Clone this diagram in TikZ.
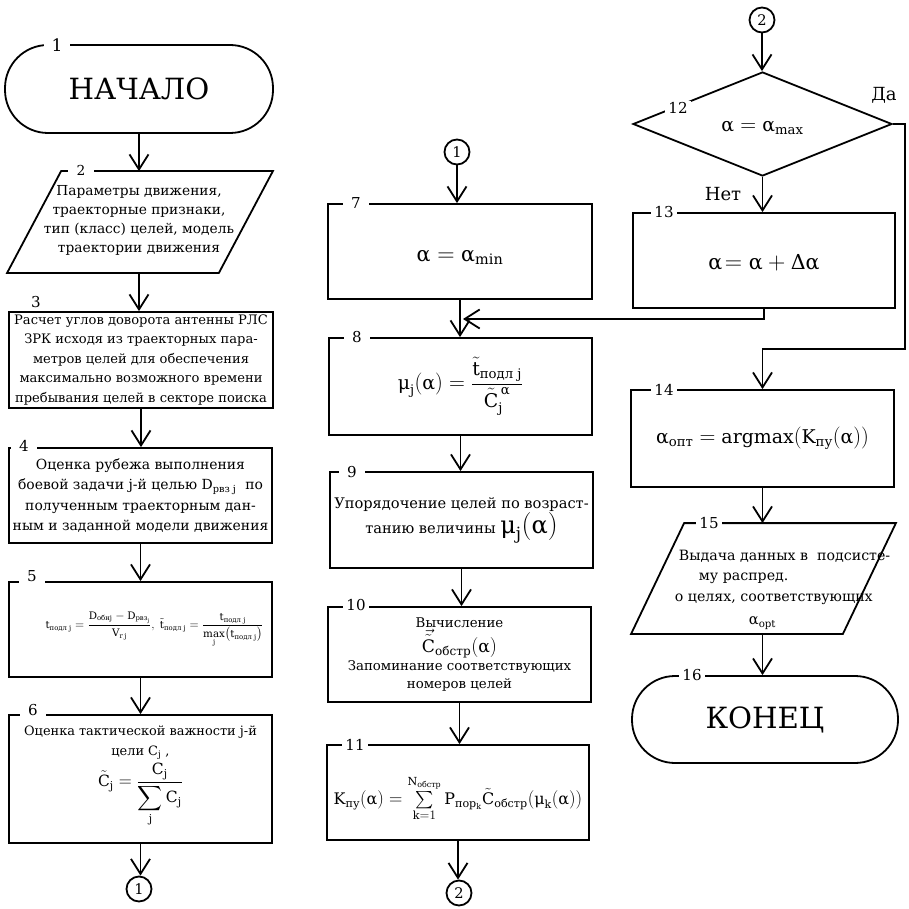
\RequirePackage{fix-cm}
\documentclass[tikz,border=0pt]{standalone}
\usepackage{amsmath}
\usepackage{fontspec}
\setmainfont{DejaVu Serif}[Scale=0.86]
\usetikzlibrary{shapes.geometric,arrows.meta,calc}
\newcommand{\T}[1]{\text{#1}}
\newcommand{\fs}[2]{\fontsize{#1}{#2}\selectfont}
\newcommand{\shiftdn}[2]{\raisebox{-#1}[\height][\depth]{#2}}
\begin{document}
\begin{tikzpicture}[x=1pt,y=-1pt,line width=1.8pt,
  blk/.style={draw,rectangle,align=center,inner sep=2pt},
  term/.style={draw,rectangle,rounded corners=43pt,inner sep=0pt},
  iobox/.style={rectangle,inner sep=0pt},
  num/.style={fill=white,inner xsep=2pt,inner ysep=1pt,minimum width=26pt,font=\fs{17.5}{17.5}},
  conn/.style={draw,circle,minimum size=25pt,inner sep=0pt,font=\fs{17}{17}},
  arr/.style={-{Straight Barb[length=15pt,width=19pt]}},
  lbl/.style={inner sep=0pt,font=\fs{21}{21}}]
\useasboundingbox (0,0) rectangle (909,909);

% ---------- left column ----------
\node[term,minimum width=268,minimum height=88,font=\fs{34}{34}] (t1) at (139,89) {НАЧАЛО};
\node[iobox,minimum width=264,minimum height=100] (p2) at (140,222) {};
\draw ($(p2.north west)+(54,0)$) -- (p2.north east) -- ($(p2.south east)+(-54,0)$) -- (p2.south west) -- cycle;
\node[align=center,font=\fs{16}{19}] (t2) at (139,220) {Параметры движения,\\траекторные признаки,\\тип (класс) целей, модель\\траектории движения};
\node[blk,minimum width=264,minimum height=96,font=\fs{15.2}{19.5}] (b3) at (141,360) {Расчет углов доворота антенны РЛС\\ЗРК исходя из траекторных пара-\\метров целей для обеспечения\\максимально возможного времени\\пребывания целей в секторе поиска};
\node[blk,minimum width=263,minimum height=95,font=\fs{16.2}{20.5}] (b4) at (140.5,495.5) {Оценка рубежа выполнения\\боевой задачи j-й целью D\textsubscript{рвз j}~~по\\полученным траекторным дан-\\ным и заданной модели движения};
\node[blk,minimum width=263,minimum height=95,font=\fs{12}{14}] (b5) at (140.5,629.5) {\hspace*{28pt}$\T{t}_{\T{подл j}} = \dfrac{\T{D}_{\T{обн}\T{j}} - \T{D}_{\T{рвз}_{\T{j}}}}{\T{V}_{\T{r}\,\T{j}}},\ \tilde{\T{t}}_{\T{подл j}} = \dfrac{\T{t}_{\T{подл j}}}{\max\limits_{\T{j}}\bigl(\T{t}_{\T{подл j}}\bigr)}$};
\node[blk,minimum width=263,minimum height=128,font=\fs{15}{20}] (b6) at (140.5,779) {Оценка тактической важности j-й\\цели C\textsubscript{j} ,\\[2pt]{\fs{18}{20}$\tilde{\T{C}}_{\T{j}} = \dfrac{\T{C}_{\T{j}}}{\displaystyle\sum_{\T{j}}\T{C}_{\T{j}}}$}\\[4pt]};
\node[conn] (c1a) at (139,889) {1};

% ---------- middle column ----------
\node[conn] (c1b) at (457,152) {1};
\node[blk,minimum width=264,minimum height=95,font=\fs{24}{24}] (b7) at (460,251.5) {\shiftdn{6pt}{$\T{α} = \T{α}_{\T{min}}$}};
\node[blk,minimum width=263,minimum height=97,font=\fs{22}{22}] (b8) at (460.5,386.5) {$\T{μ}_{\T{j}}(\T{α}) = \dfrac{\tilde{\T{t}}_{\T{подл j}}}{\tilde{\T{C}}_{\T{j}}^{\,\T{α}}}$};
\node[blk,minimum width=263,minimum height=96,font=\fs{17}{24}] (b9) at (461.5,520) {Упорядочение целей по возраст-\\танию величины~{\fs{28}{28}$\T{μ}_{\T{j}}(\T{α})$}};
\node[blk,minimum width=263,minimum height=95,font=\fs{15.5}{18}] (b10) at (459.5,654.5) {Вычисление\\{\fs{20}{26}$\vec{\tilde{\T{C}}}_{\T{обстр}}(\T{α})$}\\Запоминание соответствующих\\номеров целей};
\node[blk,minimum width=262,minimum height=95,font=\fs{18.5}{18.5}] (b11) at (458,792.5) {\shiftdn{6pt}{$\T{K}_{\T{пу}}(\T{α}) = \sum\limits_{\T{k}=1}^{\T{N}_{\T{обстр}}}\T{P}_{\T{пор}_{\T{k}}}\tilde{\T{C}}_{\T{обстр}}(\T{μ}_{\T{k}}(\T{α}))$}};
\node[conn] (c2a) at (459,893) {2};

% ---------- right column ----------
\node[conn] (c2b) at (762,20) {2};
\node[draw,diamond,minimum width=259,minimum height=104,inner sep=0pt,font=\fs{22}{22}] (d12) at (762.5,124) {\shiftdn{4pt}{$\T{α} = \T{α}_{\T{max}}$}};
\node[blk,minimum width=262,minimum height=95,font=\fs{24}{24}] (b13) at (764,260.5) {\shiftdn{2pt}{$\T{α}\!= \T{α} + \T{Δα}$}};
\node[blk,minimum width=263,minimum height=97,font=\fs{22}{22}] (b14) at (762.5,438.5) {$\T{α}_{\T{опт}} = \T{argmax}(\T{K}_{\T{пу}}(\T{α}))$};
\node[iobox,minimum width=263,minimum height=109] (p15) at (763.5,578.5) {};
\draw ($(p15.north west)+(53,0)$) -- (p15.north east) -- ($(p15.south east)+(-53,0)$) -- (p15.south west) -- cycle;
\node[anchor=north west,align=left,inner sep=0pt,font=\fs{16.5}{20.5}] (t15) at (674,549) {\hspace*{4pt}Выдача данных в~~подсисте-\\\hspace*{24pt}му распред.\\о целях, соответствующих\\[3pt]\hspace*{74pt}{\fs{17}{20}$\T{α}_{\T{opt}}$}};
\node[term,minimum width=266,minimum height=87,font=\fs{34}{34}] (t16) at (765,719.5) {КОНЕЦ};

\node[lbl] (yes) at (884,95) {Да};
\node[lbl] (no) at (723,194) {Нет};

% ---------- connectors ----------
\draw[arr] (t1.south) -- (t1.south |- p2.north);
\draw[arr] (t1.south |- p2.south) -- (t1.south |- b3.north);
\draw[arr] (b3.south) -- (b3.south |- b4.north);
\draw[arr] (b4.south) -- (b4.south |- b5.north);
\draw[arr] (b5.south) -- (b5.south |- b6.north);
\draw[arr] (b6.south) -- (b6.south |- c1a.north);

\draw[arr] (c1b.south) -- (c1b.south |- b7.north);
\draw[arr] (b7.south) -- (b7.south |- b8.north);
\draw[arr] (b8.south) -- (b8.south |- b9.north);
\draw[arr] (b9.south) -- (b9.south |- b10.north);
\draw[arr] (b10.south) -- (b10.south |- b11.north);
\draw[arr] (b11.south) -- (b11.south |- c2a.north);

\coordinate (r1) at (905,125);
\coordinate (r2) at (905,349);
\coordinate (lp) at (463,319);
\draw[arr] (c2b.south) -- (c2b.south |- d12.north);
\draw[arr] (d12.south) -- (d12.south |- b13.north);
\draw[arr] (d12.east) -- (d12.east -| r1) -- (r2) -| (b14.north);
\draw[arr] (b13.south) |- (lp);
\draw[arr] (b14.south) -- (b14.south |- p15.north);
\draw[arr] (b14.south |- p15.south) -- (b14.south |- t16.north);

% ---------- block numbers ----------
\node[num,font=\fs{20}{20}] (n1) at (57,45) {1};
\node[num,font=\fs{16}{16}] (n2) at (81,170) {2};
\node[num,minimum width=40pt] (n3) at (32,302) {\hspace*{8pt}3};
\node[num] (n4) at (24,446) {4};
\node[num] (n5) at (32,576) {5};
\node[num] (n6) at (33,710) {6};
\node[num] (n7) at (356,203) {7};
\node[num] (n8) at (357,337) {8};
\node[num] (n9) at (352,472) {9};
\node[num] (n10) at (356,605) {10};
\node[num] (n11) at (355,745) {11};
\node[num] (n12) at (678,108) {12};
\node[num] (n13) at (664,212) {13};
\node[num] (n14) at (664,390) {14};
\node[num] (n15) at (709,523) {15};
\node[num] (n16) at (692,675) {16};
\end{tikzpicture}
\end{document}
